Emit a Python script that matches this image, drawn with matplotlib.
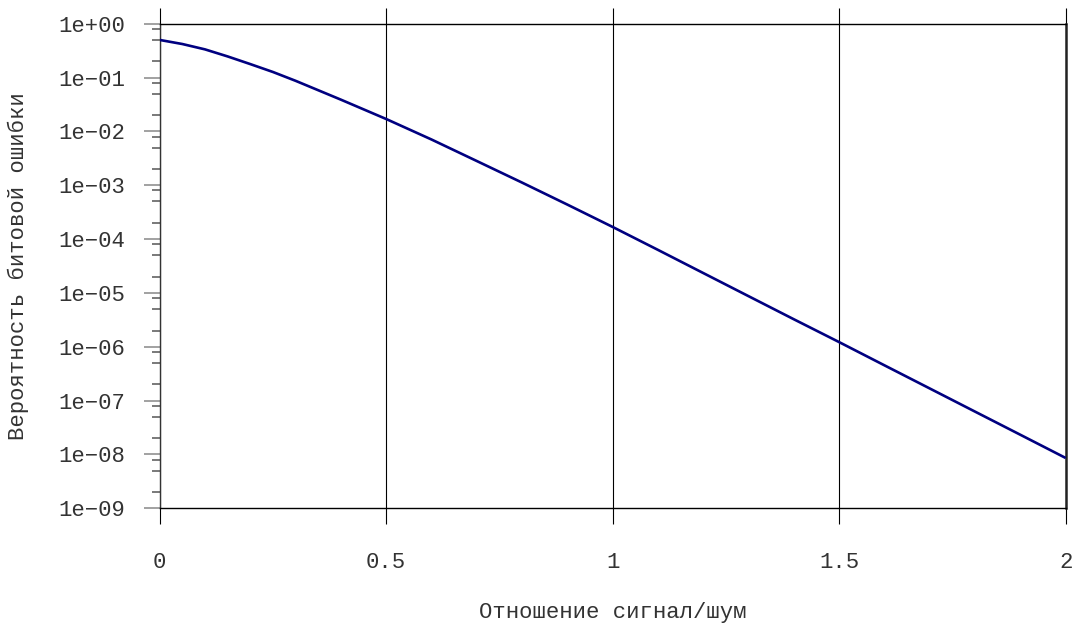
import matplotlib
matplotlib.use("Agg")
import matplotlib.pyplot as plt
from matplotlib.ticker import FixedLocator, NullFormatter

# Data
snr = [0.0, 0.05, 0.1, 0.15, 0.2, 0.25, 0.3, 0.4, 0.5, 0.6, 0.7, 0.8, 0.9, 1.0,
       1.1, 1.2, 1.3, 1.4, 1.5, 1.6, 1.7, 1.8, 1.9, 2.0]
ber = [0.50, 0.42, 0.334, 0.247, 0.178, 0.127, 0.0871, 0.0389, 0.0170, 7.08e-3,
       2.82e-3, 1.12e-3, 4.37e-4, 1.68e-4, 6.3e-5, 2.34e-5, 8.7e-6, 3.24e-6,
       1.22e-6, 4.52e-7, 1.68e-7, 6.24e-8, 2.32e-8, 8.6e-9]

x_ticks = [0, 0.5, 1, 1.5, 2]
x_tick_labels = ["0", "0.5", "1", "1.5", "2"]
y_ticks = [1e0, 1e-1, 1e-2, 1e-3, 1e-4, 1e-5, 1e-6, 1e-7, 1e-8, 1e-9]
y_tick_labels = ["1e+00", "1e\u221201", "1e\u221202", "1e\u221203", "1e\u221204",
                 "1e\u221205", "1e\u221206", "1e\u221207", "1e\u221208", "1e\u221209"]
y_minor_subs = [2, 5, 8]

x_label = "Отношение сигнал/шум"
y_label = "Вероятность битовой ошибки"

plt.rcParams['font.family'] = ['Liberation Mono', 'DejaVu Sans Mono']
txt_color = '#333333'

fig = plt.figure(figsize=(10.78, 6.26), dpi=100)
ax = fig.add_axes([0.1481, 0.188, 0.9886 - 0.1481, 0.9621 - 0.188])

ax.plot(snr, ber, color='#000080', lw=1.9, solid_capstyle='butt', zorder=3)

ax.set_yscale('log')
ax.set_xlim(0, 2)
ax.set_ylim(1e-9, 1e0)

ax.xaxis.set_major_locator(FixedLocator(x_ticks))
ax.set_xticklabels(x_tick_labels)
ax.yaxis.set_major_locator(FixedLocator(y_ticks))
ax.set_yticklabels(y_tick_labels)
minor_pos = [d * s for d in y_ticks[1:] for s in y_minor_subs]
ax.yaxis.set_minor_locator(FixedLocator(minor_pos))
ax.yaxis.set_minor_formatter(NullFormatter())
ax.xaxis.set_minor_locator(FixedLocator([]))

ax.tick_params(axis='x', which='major', direction='out', length=11.8, width=0.8,
               color='black', bottom=True, top=True, labelsize=16,
               labelcolor=txt_color, pad=19.5)
ax.tick_params(axis='y', which='major', direction='out', length=11.5, width=1.1,
               color='#888888', left=True, right=False, labelsize=16,
               labelcolor=txt_color, pad=13.5)
ax.tick_params(axis='y', which='minor', direction='out', length=5.8, width=1.1,
               color='#555555', left=True, right=False)

ax.grid(True, axis='x', which='major', color='black', lw=0.8)
ax.grid(False, axis='y')

for side in ['top', 'bottom']:
    ax.spines[side].set_color('black')
    ax.spines[side].set_linewidth(1.0)
ax.spines['left'].set_color('#333333')
ax.spines['left'].set_linewidth(1.0)
ax.spines['right'].set_color('#222222')
ax.spines['right'].set_linewidth(1.8)

ax.set_xlabel(x_label, fontsize=16, color=txt_color)
ax.xaxis.label.set_va('center')
ax.xaxis.set_label_coords(0.5, -0.214)
ax.set_ylabel(y_label, fontsize=16, color=txt_color)
ax.yaxis.label.set_va('center')
ax.yaxis.set_label_coords(-0.156, 0.5)

fig.savefig('out.png', dpi=100)
